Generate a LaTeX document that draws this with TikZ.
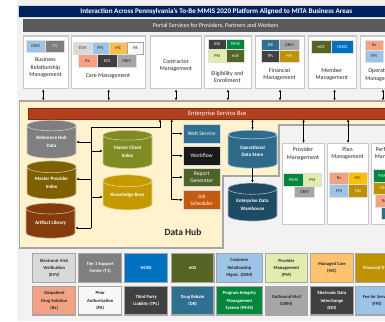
\documentclass[tikz,border=0pt]{standalone}
\usepackage{fontspec}
\setmainfont{Carlito}
\usepackage{xcolor}
\usepackage{tikz}
\usetikzlibrary{shapes.geometric,arrows.meta,calc}

\definecolor{bgcol}{RGB}{242,242,242}
\definecolor{navycol}{RGB}{0,32,96}
\definecolor{portalcol}{RGB}{89,89,89}
\definecolor{framecol}{RGB}{166,166,166}
\definecolor{boxline}{RGB}{200,200,200}
\definecolor{esbcol}{RGB}{176,64,30}
\definecolor{creamcol}{RGB}{255,242,204}
\definecolor{txtcol}{RGB}{38,38,38}
\definecolor{crmcol}{RGB}{157,195,230}
\definecolor{tonecol}{RGB}{127,127,127}
\definecolor{evvcol}{RGB}{217,217,217}
\definecolor{mccol}{RGB}{255,190,75}
\definecolor{mcycol}{RGB}{255,192,0}
\definecolor{mclcol}{RGB}{255,195,110}
\definecolor{pacol}{RGB}{248,248,248}
\definecolor{rxcol}{RGB}{244,162,131}
\definecolor{edicol}{RGB}{64,64,64}
\definecolor{obmcol}{RGB}{166,166,166}
\definecolor{pimscol}{RGB}{0,135,62}
\definecolor{pmcol}{RGB}{226,236,174}
\definecolor{eoscol}{RGB}{84,100,34}
\definecolor{drcol}{RGB}{47,111,143}
\definecolor{fincol}{RGB}{191,144,0}
\definecolor{hcsiscol}{RGB}{0,112,192}
\definecolor{refcol}{RGB}{127,127,127}
\definecolor{mpicol}{RGB}{127,96,0}
\definecolor{artcol}{RGB}{132,60,12}
\definecolor{mcicol}{RGB}{128,140,35}
\definecolor{kbcol}{RGB}{196,154,0}
\definecolor{odscol}{RGB}{46,107,138}
\definecolor{edwcol}{RGB}{30,74,99}
\definecolor{wfcol}{RGB}{24,24,24}
\definecolor{rgcol}{RGB}{79,98,40}
\definecolor{jscol}{RGB}{197,90,17}

\newcommand{\ttlfont}{\fontsize{7.1}{8}\selectfont\bfseries}
\newcommand{\barfont}{\fontsize{6.1}{7}\selectfont}
\newcommand{\esbfont}{\fontsize{6.5}{7.5}\selectfont}
\newcommand{\lblfont}{\fontsize{5.9}{7.5}\selectfont}
\newcommand{\chipfont}{\fontsize{4.4}{5}\selectfont}
\newcommand{\cylfont}{\fontsize{5}{7.5}\selectfont\bfseries}
\newcommand{\hubfont}{\fontsize{5.6}{7}\selectfont}
\newcommand{\legfont}{\fontsize{4.6}{7.2}\selectfont\bfseries}

\begin{document}
\begin{tikzpicture}[x=1pt,y=1pt,yscale=-1,xscale=1,
  >={Latex[length=2.6pt,width=2.4pt]},
  areabox/.style={draw=boxline, fill=white, line width=1.1, minimum height=52.8, inner sep=0, anchor=north west},
  lbl/.style={font=\lblfont, text=txtcol, align=center, inner sep=0},
  chip/.style={draw=white!75!gray, line width=0.5, fill=#1, inner sep=0, anchor=north west, font=\chipfont, text=txtcol},
  wchip/.style={chip=#1, text=white},
  cyl/.style={cylinder, shape border rotate=90, aspect=0.35, minimum width=49, minimum height=38, inner sep=0, fill=#1, draw=white!60!#1, line width=0.6, text=white, font=\cylfont, align=center},
  hubbox/.style={fill=#1, draw=white!70!gray, line width=0.6, inner sep=0, anchor=north west, minimum width=37.3, text=white, font=\hubfont, align=center},
  legchip/.style={fill=#1, draw=framecol, line width=1.1, inner sep=0, anchor=north west, minimum width=42.7, minimum height=28.4, font=\legfont, text=txtcol, align=center},
  wlegchip/.style={legchip=#1, text=white},
  link/.style={line width=0.8, black},
]
  \useasboundingbox (0,0) rectangle (385,321);
  \clip (0,0) rectangle (385,321);

  %Shape: Rectangle
  \fill [white] (0,0) rectangle (385,321);
  \fill [bgcol] (16.5,0) rectangle (385,321);

  % Text Node
  \draw (18.3,5) node [fill=navycol, draw=white!70!gray, line width=0.6, minimum width=395.4, minimum height=12.3, inner sep=0, anchor=north west, text=white, font=\ttlfont] (title) {Interaction Across Pennsylvania's To-Be MMIS 2020 Platform Aligned to MITA Business Areas};
  % Text Node
  \draw (22.7,19.3) node [fill=portalcol, minimum width=385.6, minimum height=13, inner sep=0, anchor=north west, text=white, font=\barfont] (portal) {Portal Services for Providers, Partners and Workers};

  %Shape: Rectangle
  \draw (23.3,35.5) node [areabox, minimum width=44.4] (brm) {};
  \draw (71,35.5) node [areabox, minimum width=74.3] (care) {};
  \draw (150,35.5) node [areabox, minimum width=51] (contr) {};
  \draw (204,35.5) node [areabox, minimum width=46.7] (elig) {};
  \draw (255,35.5) node [areabox, minimum width=49] (finm) {};
  \draw (307.7,35.5) node [areabox, minimum width=48] (memb) {};
  \draw (360,35.5) node [areabox, minimum width=60] (oper) {};

  % Text Node
  \draw (45.5,67.7) node [lbl] (brmlbl) {Business\\Relationship\\Management};
  \draw (108,76) node [lbl] (carelbl) {Care Management};
  \draw (176,65.5) node [lbl] (contrlbl) {Contractor\\Management};
  \draw (227.3,77) node [lbl] (eliglbl) {Eligibility and\\Enrollment};
  \draw (279.5,74.5) node [lbl] (finmlbl) {Financial\\Management};
  \draw (331.7,74.5) node [lbl] (memblbl) {Member\\Management};
  \draw (381.5,75) node [lbl] (operlbl) {Operations\\Management};

  %Shape: Rectangle
  \draw (25.7,40) node [chip=crmcol, minimum width=19.3, minimum height=11.7] (brmcrm) {CRM};
  \draw (45,40) node [wchip=tonecol, minimum width=19.3, minimum height=11.7] (brmtone) {T1};
  \draw (73.3,42.3) node [chip=evvcol, minimum width=18.4, minimum height=12] (careevv) {EVV};
  \draw (91.7,42.3) node [chip=crmcol, minimum width=17, minimum height=12] (careffs) {FFS};
  \draw (108.7,42.3) node [chip=mccol, minimum width=18.6, minimum height=12] (caremc) {MC};
  \draw (127.3,42.3) node [chip=pacol, draw=framecol, minimum width=16, minimum height=12] (carepa) {PA};
  \draw (77.7,54.3) node [chip=rxcol, minimum width=19.3, minimum height=12.4] (carerx) {Rx};
  \draw (97,54.3) node [wchip=edicol, minimum width=19.7, minimum height=12.4] (careedi) {EDI};
  \draw (116.7,54.3) node [chip=obmcol, minimum width=19.3, minimum height=12.4] (careobm) {OBM};
  \draw (208.3,39.3) node [wchip=edicol, minimum width=17.7, minimum height=10] (eligedi) {EDI};
  \draw (226,39.3) node [wchip=pimscol, minimum width=18.3, minimum height=10] (eligpims) {PIMS};
  \draw (208.3,49.3) node [chip=pmcol, minimum width=17.7, minimum height=13] (eligpm) {PM};
  \draw (226,49.3) node [wchip=eoscol, minimum width=18.3, minimum height=13] (eligeos) {eOS};
  \draw (261,39) node [wchip=drcol, minimum width=18.3, minimum height=11] (finmdr) {DR};
  \draw (279.3,39) node [chip=obmcol, minimum width=19.7, minimum height=11] (finmobm) {OBM};
  \draw (261,50) node [wchip=edicol, minimum width=18.3, minimum height=12.3] (finmtpl) {TPL};
  \draw (279.3,50) node [wchip=fincol, minimum width=19.7, minimum height=12.3] (finmfin) {FIN};
  \draw (311,40) node [wchip=eoscol, minimum width=19.7, minimum height=12.7] (membeos) {eOS};
  \draw (330.7,40) node [wchip=hcsiscol, minimum width=22.6, minimum height=12.7] (membhcsis) {HCSIS};
  \draw (365,40) node [chip=rxcol, minimum width=18, minimum height=10] (operrx) {Rx};
  \draw (365,50) node [chip=crmcol, minimum width=18, minimum height=11.7] (operffs) {FFS};

  %Straight Lines
  \coordinate (hubtop) at (0,100.5);
  \coordinate (abrm) at ([xshift=-2.8]brm.south);
  \coordinate (amemb) at ([xshift=2.3]memb.south);
  \coordinate (aoper) at ([xshift=23]oper.south west);
  \draw [link,<->] (abrm) -- (abrm |- hubtop);
  \draw [link,<->] (care.south) -- (care.south |- hubtop);
  \draw [link,<->] (contr.south) -- (contr.south |- hubtop);
  \draw [link,<->] (elig.south) -- (elig.south |- hubtop);
  \draw [link,<->] (finm.south) -- (finm.south |- hubtop);
  \draw [link,<->] (amemb) -- (amemb |- hubtop);
  \draw [link,<->] (aoper) -- (aoper |- hubtop);

  %Shape: Polygon
  \draw [fill=creamcol, draw=framecol, line width=1.8] (19.5,101) -- (400,101) -- (400,125) -- (279,125) -- (279,176) -- (223,176) -- (223,248) -- (19.5,248) -- cycle;
  \draw [draw=framecol, line width=2.6] (223,248) -- (223,176) -- (279,176) -- (279,125) -- (400,125);

  % Text Node
  \draw (28,108.3) node [fill=esbcol, draw=esbcol!70!black, line width=0.5, minimum width=378, minimum height=10.4, inner sep=0, anchor=north west, text=white, font=\esbfont] (esb) {Enterprise Service Bus};

  %Shape: Can
  \draw (51.5,142) node [cyl=refcol] (refhub) {Reference Hub\\Data};
  \draw (51.5,183) node [cyl=mpicol] (mpi) {Master Provider\\Index};
  \draw (50.5,223.5) node [cyl=artcol, minimum height=35] (art) {Artifact Library};
  \draw (127.5,152) node [cyl=mcicol] (mci) {Master Client\\Index};
  \draw (127.5,195.5) node [cyl=kbcol, minimum height=35] (kb) {Knowledge Base};
  \draw (252.5,151.5) node [cyl=odscol] (ods) {Operational\\Data Store};
  \draw (252.5,205) node [cyl=edwcol] (edw) {Enterprise Data\\Warehouse};

  %Shape: Rectangle
  \draw (182.7,124) node [hubbox=drcol, minimum height=18.7] (websvc) {Web Service};
  \draw (182.7,146) node [hubbox=wfcol, minimum height=19] (wflow) {Workflow};
  \draw (182.7,167.7) node [hubbox=rgcol, minimum height=18.3] (repgen) {Report\\Generator};
  \draw (182.7,190) node [hubbox=jscol, minimum height=19] (jobsch) {Job\\Scheduler};

  %Straight Lines
  \coordinate (sl0) at (91,127);
  \coordinate (sl1) at (91,142);
  \coordinate (sl2) at (91,151);
  \coordinate (sl3) at (91,179);
  \coordinate (sl4) at (91,197);
  \coordinate (sl5) at (91,228);
  \coordinate (st) at (160,127);
  \draw [link] (sl0) -- (sl5);
  \draw [link,->] (sl0) -- (st) -- (st |- esb.south);
  \draw [link,->] (sl1) -- (sl1 -| refhub.east);
  \draw [link,->] (sl2) -- (sl2 -| mci.west);
  \draw [link,->] (sl3) -- (sl3 -| mpi.east);
  \draw [link,->] (sl4) -- (sl4 -| kb.west);
  \draw [link,->] (sl5) -- (sl5 -| art.east);
  \coordinate (sr0) at (171.7,199.5);
  \draw [link,->] (sr0) -- (sr0 |- esb.south);
  \draw [link,->] (sr0 |- websvc.west) -- (websvc.west);
  \draw [link,->] (sr0 |- wflow.west) -- (wflow.west);
  \draw [link,->] (sr0 |- repgen.west) -- (repgen.west);
  \draw [link,->] (sr0) -- (jobsch.west);
  \draw [link,<->] (ods.north |- esb.south) -- (ods.north);
  \draw [link,->] (ods.south) -- (edw.north);

  % Text Node
  \draw (183,232) node [font=\fontsize{9.5}{11}\selectfont\bfseries, text=txtcol, inner sep=0] (hublbl) {Data Hub};

  %Shape: Rectangle
  \draw (282,143) node [areabox, minimum width=42, minimum height=81] (provm) {};
  \draw (327,143) node [areabox, minimum width=41, minimum height=81] (planm) {};
  \draw (371,143) node [areabox, minimum width=50, minimum height=81] (perfm) {};
  % Text Node
  \draw (303,154) node [lbl] (provlbl) {Provider\\Management};
  \draw (347.5,153.3) node [lbl] (planlbl) {Plan\\Management};
  \draw (391,153.5) node [lbl] (perflbl) {Performance\\Management};
  %Straight Lines
  \draw [link,<->] (provm.north |- esb.south) -- (provm.north);
  \draw [link,<->] (planm.north |- esb.south) -- (planm.north);

  %Shape: Rectangle
  \draw (283.3,173.3) node [wchip=pimscol, minimum width=20, minimum height=12.4] (provpims) {PIMS};
  \draw (303.3,173.3) node [chip=pmcol, minimum width=17.7, minimum height=12.4] (provpm) {PM};
  \draw (294.3,185.7) node [chip=obmcol, minimum width=20, minimum height=11.6] (provobm) {OBM};
  \draw (329.3,172) node [chip=rxcol, minimum width=19, minimum height=12] (planrx) {Rx};
  \draw (348.3,172) node [chip=mcycol, minimum width=18.4, minimum height=12] (planmc) {MC};
  \draw (329.3,184) node [chip=crmcol, minimum width=19, minimum height=12.7] (planffs) {FFS};
  \draw (348.3,184) node [wchip=fincol, minimum width=18.4, minimum height=12.7] (planfin) {FIN};
  \draw (372.7,169.3) node [wchip=pimscol, minimum width=20, minimum height=12.4] (perfpims) {PIMS};
  \draw (372.7,181.7) node [wchip=fincol, minimum width=20, minimum height=12.6] (perffin) {FIN};
  \draw (374.5,194.3) node [chip=rxcol, minimum width=19, minimum height=12.4] (perfrx) {Rx};
  \draw (381,206.7) node [wchip=drcol, minimum width=19, minimum height=12.4] (perfdr) {DR};

  %Shape: Rectangle
  \draw (32.3,253.3) node [legchip=evvcol] (legevv) {Electronic Visit\\Verification\\(EVV)};
  \draw (78.3,253.3) node [wlegchip=tonecol] (legtone) {Tier 1 Support\\Center (T1)};
  \draw (124.3,253.3) node [wlegchip=hcsiscol] (leghcsis) {HCSIS};
  \draw (170.7,253.3) node [wlegchip=eoscol] (legeos) {eOS};
  \draw (216,253.3) node [legchip=crmcol, minimum width=45.7] (legcrm) {Customer\\Relationship\\Mgmt. (CRM)};
  \draw (265,253.3) node [legchip=pmcol, minimum width=41.7] (legpm) {Provider\\Management\\(PM)};
  \draw (310,253.3) node [legchip=mclcol] (legmc) {Managed Care\\(MC)};
  \draw (355,253.3) node [wlegchip=fincol] (legfin) {Financial (FIN)};
  \draw (32.3,286) node [legchip=rxcol] (legrx) {Outpatient\\Drug Solution\\(Rx)};
  \draw (78.3,286) node [legchip=pacol] (legpa) {Prior\\Authorization\\(PA)};
  \draw (124.3,286) node [wlegchip=edicol] (legtpl) {Third Party\\Liability (TPL)};
  \draw (170.7,286) node [wlegchip=drcol] (legdr) {Drug Rebate\\(DR)};
  \draw (216,286) node [wlegchip=pimscol, minimum width=45.7] (legpims) {Program Integrity\\Management\\System (PIMS)};
  \draw (265,286) node [legchip=obmcol, minimum width=41.7] (legobm) {Outbound Mail\\(OBM)};
  \draw (310,286) node [wlegchip=edicol] (legedi) {Electronic Data\\Interchange\\(EDI)};
  \draw (355,286) node [legchip=crmcol] (legffs) {Fee for Service\\(FFS)};
\end{tikzpicture}
\end{document}
